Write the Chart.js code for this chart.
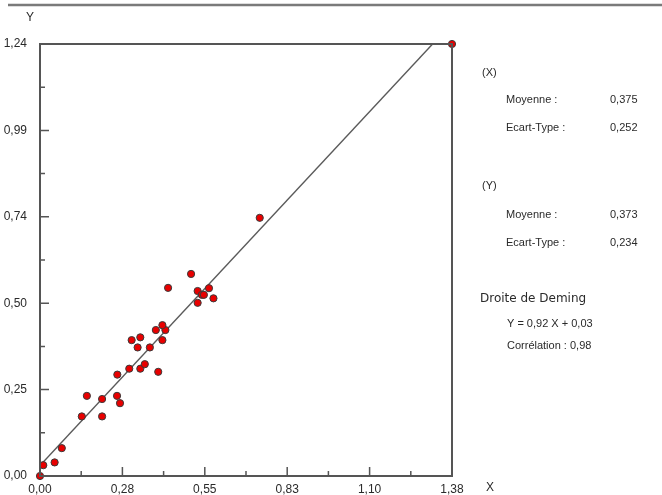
<!DOCTYPE html>
<html>
<head>
<meta charset="utf-8">
<script src="https://cdn.jsdelivr.net/npm/chart.js@4"></script>
<style>
  body { margin: 0; background: #fff; }
  canvas { display: block; }
</style>
</head>
<body>
<canvas id="chart" width="662" height="495"></canvas>
<script>
// Deming regression scatter

const xValues = [0.000, 0.011, 0.049, 0.073, 0.140, 0.208, 0.157, 0.208, 0.258, 0.268, 0.259,
                 0.299, 0.336, 0.351, 0.396, 0.307, 0.336, 0.327, 0.368, 0.410, 0.388, 0.420,
                 0.410, 0.429, 0.506, 0.528, 0.566, 0.542, 0.549, 0.581, 0.528, 0.736, 1.380];
const yValues = [0.000, 0.031, 0.039, 0.080, 0.171, 0.171, 0.230, 0.221, 0.230, 0.209, 0.291,
                 0.308, 0.308, 0.321, 0.299, 0.390, 0.398, 0.369, 0.369, 0.390, 0.419, 0.419,
                 0.433, 0.540, 0.580, 0.531, 0.539, 0.520, 0.520, 0.510, 0.497, 0.741, 1.240];

// Deming line endpoints (Y = 0,92 X + 0,03, stopped at the top of the frame)
const lineX = [0, 1.315];
const lineY = [0.03, 1.24];

const xMax = 1.38;
const yMax = 1.24;
const xTickLabels = ['0,00', '0,28', '0,55', '0,83', '1,10', '1,38'];
const yTickLabels = ['0,00', '0,25', '0,50', '0,74', '0,99', '1,24'];

const statsX = { moyenne: '0,375', ecart: '0,252' };
const statsY = { moyenne: '0,373', ecart: '0,234' };
const demingEq = 'Y = 0,92 X + 0,03';
const correlation = '0,98';

const frameColor = '#555555';
const textColor = '#2a2a2a';

// Frame, inward ticks, top rule and side panel
const decorations = {
    id: 'decorations',
    afterDraw(chart) {
        const { ctx, chartArea, scales } = chart;
        const xs = scales.x, ys = scales.y;
        ctx.save();

        // top rule
        ctx.strokeStyle = '#7a7a7a';
        ctx.lineWidth = 2.5;
        ctx.beginPath();
        ctx.moveTo(8, 5);
        ctx.lineTo(662, 5);
        ctx.stroke();

        // frame
        ctx.strokeStyle = frameColor;
        ctx.lineWidth = 2;
        ctx.strokeRect(chartArea.left, chartArea.top,
                       chartArea.right - chartArea.left, chartArea.bottom - chartArea.top);

        // ticks pointing inside
        ctx.lineWidth = 1.5;
        ctx.beginPath();
        for (let i = 0; i <= 10; i++) {
            const len = i % 2 === 0 ? 9 : 5;
            const px = xs.getPixelForValue(i * xMax / 10);
            ctx.moveTo(px, chartArea.bottom);
            ctx.lineTo(px, chartArea.bottom - len);
            const py = ys.getPixelForValue(i * yMax / 10);
            ctx.moveTo(chartArea.left, py);
            ctx.lineTo(chartArea.left + len, py);
        }
        ctx.stroke();

        // axis names
        ctx.fillStyle = textColor;
        ctx.font = '12px "Liberation Sans", Arial, sans-serif';
        ctx.textAlign = 'center';
        ctx.textBaseline = 'middle';
        ctx.fillText('Y', 30, 18);
        ctx.fillText('X', 490, 488);

        // statistics panel
        ctx.textAlign = 'left';
        ctx.font = '11px "Liberation Sans", Arial, sans-serif';
        ctx.fillText('(X)', 482, 73);
        ctx.fillText('Moyenne :', 506, 100);
        ctx.fillText(statsX.moyenne, 610, 100);
        ctx.fillText('Ecart-Type :', 506, 128);
        ctx.fillText(statsX.ecart, 610, 128);

        ctx.fillText('(Y)', 482, 186);
        ctx.fillText('Moyenne :', 506, 215);
        ctx.fillText(statsY.moyenne, 610, 215);
        ctx.fillText('Ecart-Type :', 506, 243);
        ctx.fillText(statsY.ecart, 610, 243);

        ctx.font = '12px "DejaVu Sans", Verdana, sans-serif';
        ctx.fillText('Droite de Deming', 480, 299);
        ctx.font = '11px "Liberation Sans", Arial, sans-serif';
        ctx.fillText(demingEq, 507, 324);
        ctx.fillText('Corrélation : ' + correlation, 507, 346);

        ctx.restore();
    }
};

const ctx = document.getElementById('chart').getContext('2d');

new Chart(ctx, {
    type: 'scatter',
    data: {
        datasets: [
            {
                type: 'line',
                data: lineX.map((x, i) => ({ x: x, y: lineY[i] })),
                borderColor: '#5a5a5a',
                borderWidth: 1.4,
                pointRadius: 0,
                fill: false,
                order: 2
            },
            {
                data: xValues.map((x, i) => ({ x: x, y: yValues[i] })),
                backgroundColor: '#e80000',
                borderColor: '#3a3a3a',
                borderWidth: 1,
                pointRadius: 3.6,
                clip: false,
                order: 1
            }
        ]
    },
    plugins: [decorations],
    options: {
        responsive: false,
        animation: false,
        layout: {
            padding: { left: 0, top: 44, right: 210, bottom: 0 }
        },
        plugins: {
            legend: { display: false },
            tooltip: { enabled: false }
        },
        scales: {
            x: {
                type: 'linear',
                min: 0,
                max: xMax,
                afterBuildTicks: (scale) => {
                    scale.ticks = xTickLabels.map((l, i) => ({ value: i * xMax / 5 }));
                },
                afterFit: (scale) => { scale.height = 19; },
                grid: { display: false },
                border: { display: false },
                ticks: {
                    padding: -2,
                    maxRotation: 0,
                    autoSkip: false,
                    color: textColor,
                    font: { family: '"Liberation Sans", Arial, sans-serif', size: 12 },
                    callback: (v, i) => xTickLabels[i]
                }
            },
            y: {
                type: 'linear',
                min: 0,
                max: yMax,
                afterBuildTicks: (scale) => {
                    scale.ticks = yTickLabels.map((l, i) => ({ value: i * yMax / 5 }));
                },
                afterFit: (scale) => { scale.width = 40; },
                grid: { display: false },
                border: { display: false },
                ticks: {
                    padding: 5,
                    autoSkip: false,
                    color: textColor,
                    font: { family: '"Liberation Sans", Arial, sans-serif', size: 12 },
                    callback: (v, i) => yTickLabels[i]
                }
            }
        }
    }
});
</script>
</body>
</html>
